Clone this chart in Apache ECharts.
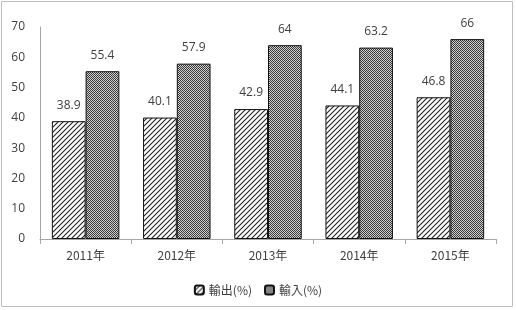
<!DOCTYPE html>
<html>
<head>
<meta charset="utf-8">
<script src="https://cdn.jsdelivr.net/npm/echarts@6/dist/echarts.min.js"></script>
<style>
  html, body { margin: 0; padding: 0; background: #fff; }
  #main { width: 516px; height: 310px; }
</style>
</head>
<body>
<div id="main"></div>
<script>
// 年份
const years = ['2011年', '2012年', '2013年', '2014年', '2015年']
// 輸出 / 輸入 (%)
const exportData = [38.9, 40.1, 42.9, 44.1, 46.8]
const importData = [55.4, 57.9, 64, 63.2, 66]

// 斜线填充
const makeHatch = () => {
  const c = document.createElement('canvas')
  c.width = 5
  c.height = 5
  const ctx = c.getContext('2d')
  ctx.fillStyle = '#fff'
  ctx.fillRect(0, 0, 5, 5)
  ctx.strokeStyle = '#222'
  ctx.lineWidth = 1.1
  ctx.beginPath()
  ctx.moveTo(-1, 6); ctx.lineTo(6, -1)
  ctx.moveTo(-4, 4); ctx.lineTo(4, -4)
  ctx.moveTo(1, 9); ctx.lineTo(9, 1)
  ctx.stroke()
  return c
}
// 网格填充
const makeChecker = () => {
  const c = document.createElement('canvas')
  c.width = 2
  c.height = 2
  const ctx = c.getContext('2d')
  ctx.fillStyle = '#cfcfcf'
  ctx.fillRect(0, 0, 2, 2)
  ctx.fillStyle = '#3a3a3a'
  ctx.fillRect(0, 0, 1, 1)
  ctx.fillRect(1, 1, 1, 1)
  return c
}
const hatch = makeHatch()
const checker = makeChecker()

const myChart = echarts.init(document.querySelector('#main'))
const labelStyle = {
  show: true,
  position: 'top',
  distance: 10,
  color: '#404040',
  fontSize: 12,
  fontFamily: 'Open Sans'
}
const option = {
  animation: false,
  graphic: [{
    type: 'rect',
    shape: { x: 1.5, y: 1.5, width: 511, height: 305 },
    style: { fill: 'none', stroke: '#bfbfbf', lineWidth: 1 }
  }],
  grid: { left: 40, right: 20, top: 27, bottom: 71 },
  legend: {
    bottom: 9,
    left: 'center',
    itemWidth: 9,
    itemHeight: 9,
    itemGap: 12,
    textStyle: { color: '#404040', fontSize: 12, fontFamily: 'Noto Sans CJK TC' },
    data: ['輸出(%)', '輸入(%)']
  },
  xAxis: {
    type: 'category',
    data: years,
    axisLine: { lineStyle: { color: '#a6a6a6' } },
    axisTick: { show: true, length: 5, lineStyle: { color: '#a6a6a6' } },
    axisLabel: { color: '#404040', fontSize: 12, margin: 10, fontFamily: 'Noto Sans CJK TC' }
  },
  yAxis: {
    type: 'value',
    min: 0,
    max: 70,
    interval: 10,
    axisLine: { show: true, lineStyle: { color: '#a6a6a6' } },
    axisTick: { show: false },
    splitLine: { show: false },
    axisLabel: { color: '#404040', fontSize: 12, margin: 15, fontFamily: 'Open Sans' }
  },
  series: [
    {
      name: '輸出(%)',
      type: 'bar',
      data: exportData,
      barGap: '0%',
      barCategoryGap: '26%',
      itemStyle: { color: { image: hatch, repeat: 'repeat' }, borderColor: '#111', borderWidth: 1 },
      label: labelStyle
    },
    {
      name: '輸入(%)',
      type: 'bar',
      data: importData,
      itemStyle: { color: { image: checker, repeat: 'repeat' }, borderColor: '#111', borderWidth: 1 },
      label: labelStyle
    }
  ]
}
myChart.setOption(option)
</script>
</body>
</html>
